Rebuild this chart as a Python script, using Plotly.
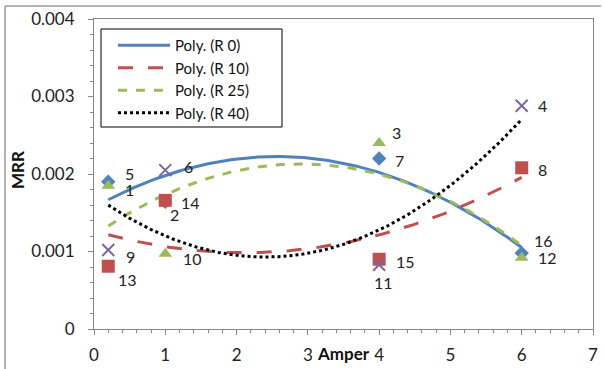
import numpy as np
import plotly.graph_objects as go

# ---- data ----
amper = [0.2, 1, 4, 6]
mrr_r0 = [0.00190, 0.00164, 0.00220, 0.00098]
mrr_r10 = [0.00081, 0.00166, 0.00090, 0.00208]
mrr_r25 = [0.00185, 0.00097, 0.00240, 0.00092]
mrr_r40 = [0.00102, 0.00205, 0.00083, 0.00288]

# experiment numbers for each series point (same order as amper)
lab_r0 = ["5", "2", "7", "16"]
lab_r10 = ["13", "14", "15", "8"]
lab_r25 = ["1", "10", "3", "12"]
lab_r40 = ["9", "6", "11", "4"]

x_ticks = [0, 1, 2, 3, 4, 5, 6, 7]
y_ticks = [0, 0.001, 0.002, 0.003, 0.004]
y_ticktext = ["0", "0.001", "0.002", "0.003", "0.004"]

FONT = "Lato"

series = [
    ("Poly. (R 0)", mrr_r0, lab_r0, "#4F81BD", "diamond", "solid", 3),
    ("Poly. (R 10)", mrr_r10, lab_r10, "#C0504D", "square", "longdash", 3),
    ("Poly. (R 25)", mrr_r25, lab_r25, "#9BBB59", "triangle-up", "dash", 3),
    ("Poly. (R 40)", mrr_r40, lab_r40, "#000000", "x-thin", "dot", 3),
]
marker_colors = ["#4F81BD", "#C0504D", "#9BBB59", "#8064A2"]
marker_sizes = [11, 13, 12, 12]

# label offsets in pixels (dx, dy downward)
offsets = {
    "5": (21, -8), "2": (9, 13), "7": (20, 2), "16": (22, -13),
    "13": (19, 13), "14": (25, 2), "15": (26, 2), "8": (21, 2),
    "1": (21, 4), "10": (27, 5), "3": (17, -11), "12": (26, 0),
    "9": (22, 7), "6": (23, -4), "11": (4, 18), "4": (21, 0),
}

fig = go.Figure()
xs = np.linspace(min(amper), max(amper), 200)

for (name, ys, labs, col, sym, dash, w) in series:
    coef = np.polyfit(amper, ys, 2)
    fig.add_trace(go.Scatter(
        x=xs, y=np.polyval(coef, xs), mode="lines", name=name,
        line=dict(color=col, width=w, dash=dash), showlegend=True,
    ))

for (name, ys, labs, col, sym, dash, w), mcol, msz in zip(series, marker_colors, marker_sizes):
    if sym == "x-thin":
        mk = dict(symbol=sym, size=msz, line=dict(color=mcol, width=2), color=mcol)
    else:
        mk = dict(symbol=sym, size=msz, color=mcol)
    fig.add_trace(go.Scatter(x=amper, y=ys, mode="markers", marker=mk,
                             showlegend=False, hoverinfo="skip"))
    for xv, yv, lb in zip(amper, ys, labs):
        dx, dy = offsets[lb]
        fig.add_annotation(x=xv, y=yv, text=lb, showarrow=False,
                           xshift=dx, yshift=-dy, xanchor="center", yanchor="middle",
                           font=dict(family=FONT, size=16, color="#222222"))

axis_common = dict(
    showgrid=False, zeroline=False, showline=True, linecolor="#868686",
    linewidth=1, mirror=True, ticks="outside", ticklen=5, tickcolor="#868686",
    tickfont=dict(family=FONT, size=17, color="#222222"), automargin=False,
)

fig.update_xaxes(range=[0, 7], tickvals=x_ticks, ticklabelstandoff=6,
                 minor=dict(ticks="outside", dtick=0.2, ticklen=3, tickcolor="#868686"),
                 **axis_common)
fig.update_yaxes(range=[0, 0.004], tickvals=y_ticks, ticktext=y_ticktext,
                 ticklabelstandoff=10,
                 minor=dict(ticks="outside", dtick=0.0002, ticklen=3, tickcolor="#868686"),
                 **axis_common)

# axis titles
fig.add_annotation(xref="paper", yref="paper", x=(343 - 94) / 499, y=(329 - 353) / 310,
                   xanchor="center", yanchor="middle",
                   text="<b>Amper</b>", showarrow=False,
                   font=dict(family=FONT, size=17, color="#111111"))
fig.add_annotation(xref="paper", yref="paper", x=(17 - 94) / 499, y=(329 - 170) / 310,
                   xanchor="center", yanchor="middle",
                   text="<b>MRR</b>", showarrow=False, textangle=-90,
                   font=dict(family=FONT, size=17, color="#111111"))

# outer chart border
fig.add_shape(type="line", xref="paper", yref="paper",
              x0=(5 - 94) / 499, x1=(5 - 94) / 499, y0=(329 - 6) / 310, y1=(329 - 372) / 310,
              line=dict(color="#9a9a9a", width=1.5))
fig.add_shape(type="line", xref="paper", yref="paper",
              x0=(5 - 94) / 499, x1=(601 - 94) / 499, y0=(329 - 6) / 310, y1=(329 - 6) / 310,
              line=dict(color="#9a9a9a", width=1.5))

# legend box
fig.add_shape(type="rect", xref="paper", yref="paper", layer="above",
              x0=(101 - 94) / 499, x1=(282 - 94) / 499,
              y0=(329 - 29) / 310, y1=(329 - 127) / 310,
              line=dict(color="#000000", width=1), fillcolor="white")

fig.update_layout(
    width=604, height=369,
    margin=dict(l=94, r=11, t=19, b=40),
    paper_bgcolor="white", plot_bgcolor="white",
    legend=dict(x=(113 - 94) / 499, y=(329 - 29) / 310, xanchor="left", yanchor="top",
                borderwidth=0, bgcolor="rgba(0,0,0,0)",
                font=dict(family=FONT, size=15, color="#111111"),
                itemwidth=52, tracegroupgap=0),
    showlegend=True,
)

fig.write_html("out.html")
